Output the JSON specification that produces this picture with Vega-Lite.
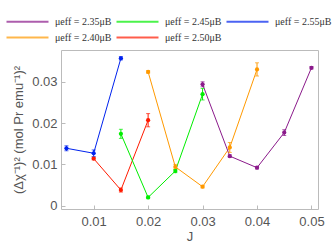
{
  "$schema": "https://vega.github.io/schema/vega-lite/v6.json",
  "autosize": "none",
  "width": 257,
  "height": 159,
  "padding": {"left": 61, "top": 50, "right": 14, "bottom": 40},
  "config": {
    "view": {"stroke": "#bbbbbb", "strokeWidth": 1},
    "axis": {"labelFont": "Liberation Sans", "labelFontSize": 13, "labelColor": "#555555", "titleFont": "Liberation Sans", "titleFontSize": 13, "titleFontWeight": "normal", "titleColor": "#555555", "domain": false, "grid": false, "tickColor": "#bbbbbb"}
  },
  "data": {"values": [
    {"mu": "2.55", "J": 0.005, "v": 0.0139, "lo": 0.0133, "hi": 0.0145},
    {"mu": "2.55", "J": 0.010, "v": 0.0127, "lo": 0.0119, "hi": 0.0135},
    {"mu": "2.55", "J": 0.015, "v": 0.0357, "lo": 0.0353, "hi": 0.0361},
    {"mu": "2.50", "J": 0.010, "v": 0.0114, "lo": 0.0111, "hi": 0.0117},
    {"mu": "2.50", "J": 0.015, "v": 0.0038, "lo": 0.0033, "hi": 0.0043},
    {"mu": "2.50", "J": 0.020, "v": 0.0207, "lo": 0.0191, "hi": 0.0223},
    {"mu": "2.45", "J": 0.015, "v": 0.0174, "lo": 0.0163, "hi": 0.0185},
    {"mu": "2.45", "J": 0.020, "v": 0.0020, "lo": 0.0017, "hi": 0.0023},
    {"mu": "2.45", "J": 0.025, "v": 0.0084, "lo": 0.0080, "hi": 0.0088},
    {"mu": "2.45", "J": 0.030, "v": 0.0270, "lo": 0.0256, "hi": 0.0284},
    {"mu": "2.40", "J": 0.020, "v": 0.0324, "lo": 0.0321, "hi": 0.0327},
    {"mu": "2.40", "J": 0.025, "v": 0.0094, "lo": 0.0088, "hi": 0.0100},
    {"mu": "2.40", "J": 0.030, "v": 0.0046, "lo": 0.0043, "hi": 0.0049},
    {"mu": "2.40", "J": 0.035, "v": 0.0141, "lo": 0.0129, "hi": 0.0153},
    {"mu": "2.40", "J": 0.040, "v": 0.0330, "lo": 0.0314, "hi": 0.0346},
    {"mu": "2.35", "J": 0.030, "v": 0.0294, "lo": 0.0288, "hi": 0.0300},
    {"mu": "2.35", "J": 0.035, "v": 0.0120, "lo": 0.0117, "hi": 0.0123},
    {"mu": "2.35", "J": 0.040, "v": 0.0092, "lo": 0.0089, "hi": 0.0095},
    {"mu": "2.35", "J": 0.045, "v": 0.0177, "lo": 0.0170, "hi": 0.0184},
    {"mu": "2.35", "J": 0.050, "v": 0.0334, "lo": 0.0331, "hi": 0.0337}
  ]},
  "encoding": {
    "x": {"field": "J", "type": "quantitative", "title": "J",
      "scale": {"domain": [0.004, 0.0512], "nice": false, "zero": false},
      "axis": {"values": [0.01, 0.02, 0.03, 0.04, 0.05], "format": "~g", "tickSize": -4, "labelPadding": 10, "titlePadding": 2}},
    "color": {"field": "mu", "type": "nominal",
      "scale": {"domain": ["2.35", "2.45", "2.55", "2.40", "2.50"], "range": ["#8B1A8B", "#00EE00", "#0022EE", "#FF9900", "#FF1A00"]},
      "legend": {"orient": "none", "legendX": -42, "legendY": -37, "columns": 3, "direction": "horizontal", "title": null, "gridAlign": "all",
        "symbolType": "M-3,0H3", "symbolSize": 196, "symbolStrokeWidth": 2.2, "labelFont": "Liberation Serif", "labelFontSize": 10, "labelColor": "#333333",
        "labelExpr": "'μeff = ' + datum.label + 'μB'", "columnPadding": 0, "rowPadding": 2, "labelOffset": 19}}
  },
  "layer": [
    {"mark": {"type": "line", "strokeWidth": 1},
     "encoding": {"y": {"field": "v", "type": "quantitative", "title": "(Δχ⁻¹)² (mol Pr emu⁻¹)²",
        "scale": {"domain": [-0.0008, 0.0377], "nice": false, "zero": false},
        "axis": {"values": [0, 0.01, 0.02, 0.03], "format": "~g", "tickSize": -4, "labelPadding": 8, "titlePadding": 6}}}},
    {"mark": {"type": "errorbar", "ticks": {"size": 4}, "thickness": 1},
     "encoding": {"y": {"field": "lo", "type": "quantitative", "title": "(Δχ⁻¹)² (mol Pr emu⁻¹)²"}, "y2": {"field": "hi"}}},
    {"mark": {"type": "point", "filled": true, "size": 18, "opacity": 1},
     "encoding": {"y": {"field": "v", "type": "quantitative", "title": "(Δχ⁻¹)² (mol Pr emu⁻¹)²"}}}
  ]
}
